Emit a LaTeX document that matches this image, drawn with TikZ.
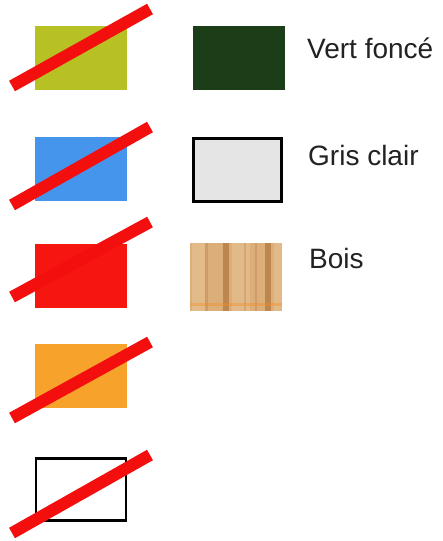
\documentclass[tikz,border=0pt]{standalone}
\usepackage{fontspec}
\setmainfont{Liberation Sans}
\definecolor{olive}{HTML}{B7C124}
\definecolor{skyblue}{HTML}{4595EC}
\definecolor{redsw}{HTML}{F5170F}
\definecolor{orangesw}{HTML}{F7A22B}
\definecolor{darkgreen}{HTML}{1B3D17}
\definecolor{lightgrey}{HTML}{E5E5E5}
\definecolor{strike}{HTML}{F40F0F}
\definecolor{woodbase}{HTML}{DCAE7A}
\definecolor{woodlight}{HTML}{E8C497}
\definecolor{wooddark}{HTML}{B57D45}
\definecolor{textgrey}{HTML}{222222}
\begin{document}
\begin{tikzpicture}[x=1pt,y=-1pt,
  swatch/.style={rectangle,inner sep=0pt,outer sep=0pt,minimum width=92pt,minimum height=64pt},
  strikeline/.style={draw=strike,line width=12pt,line cap=butt},
  label/.style={anchor=base west,inner sep=0pt,text=textgrey,font=\fontsize{28}{32}\selectfont}]
\useasboundingbox (0,0) rectangle (443,541);
% left column swatches
\node[swatch,fill=olive] (s1) at (81,58) {};
\node[swatch,fill=skyblue] (s2) at (81,168.5) {};
\node[swatch,fill=redsw] (s3) at (81,275.5) {};
\node[swatch,fill=orangesw] (s4) at (81,375.5) {};
\node[swatch,draw=black,line width=2.5pt,minimum width=90pt,minimum height=62pt] (s5) at (81,489.5) {};
% strike-through lines
\coordinate (a1) at (12,86);  \coordinate (b1) at (150,9);
\coordinate (a2) at (12,205); \coordinate (b2) at (150,127);
\coordinate (a3) at (12,297); \coordinate (b3) at (150,222);
\coordinate (a4) at (12,418); \coordinate (b4) at (150,342);
\coordinate (a5) at (12,533); \coordinate (b5) at (150,455);
\foreach \i in {1,...,5} {\draw[strikeline] (a\i) -- (b\i);}
% right column swatches
\node[swatch,fill=darkgreen] (g1) at (238.5,58) {};
\node[swatch,fill=lightgrey,draw=black,line width=3pt,minimum width=88pt,minimum height=63pt] (g2) at (237,170) {};
\node[swatch,fill=woodbase,minimum width=92pt,minimum height=68pt] (g3) at (236,277) {};
\begin{scope}
  \clip (g3.north west) rectangle (g3.south east);
  \fill[woodlight,opacity=0.6] (192,243) rectangle (205,311);
  \fill[woodlight,opacity=0.5] (232,243) rectangle (250,311);
  \fill[woodlight,opacity=0.5] (274,243) rectangle (282,311);
  \fill[wooddark,opacity=0.35] (205,243) rectangle (208,311);
  \fill[wooddark,opacity=0.8] (223,243) rectangle (229,311);
  \fill[wooddark,opacity=0.3] (244,243) rectangle (246,311);
  \fill[wooddark,opacity=0.8] (265,243) rectangle (271,311);
  \fill[wooddark,opacity=0.35] (255,243) rectangle (257,311);
  \fill[orange!70!woodbase,opacity=0.4] (190,303) rectangle (282,306);
\end{scope}
% labels
\node[label] (t1) at (307,58.5) {Vert foncé};
\node[label] (t2) at (308,165) {Gris clair};
\node[label] (t3) at (309,268) {Bois};
\end{tikzpicture}
\end{document}
